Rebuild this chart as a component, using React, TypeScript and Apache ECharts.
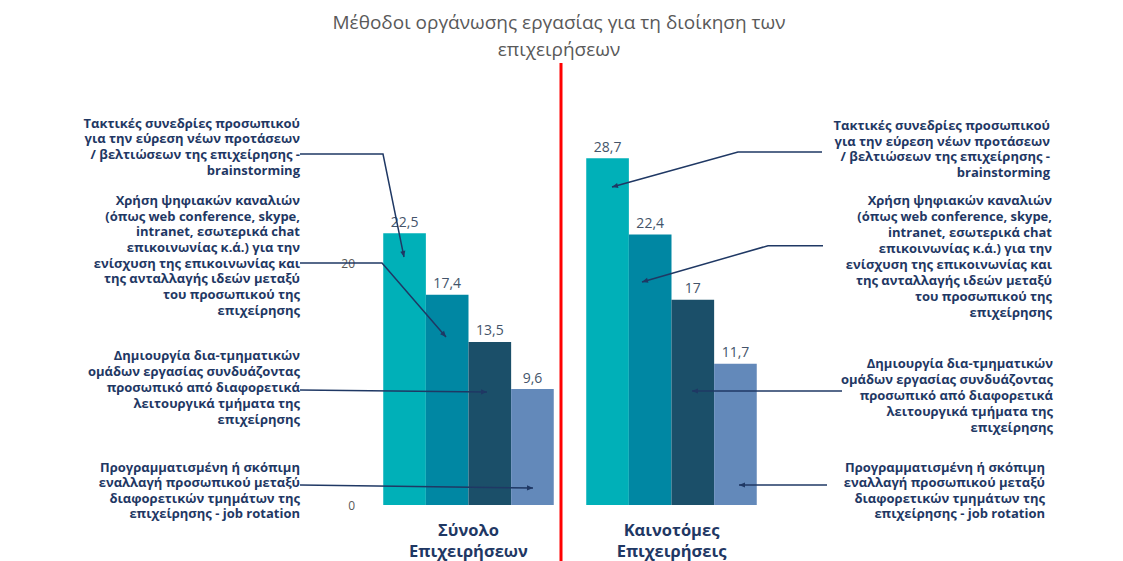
import React, { useEffect, useRef } from "react";
import * as echarts from "echarts";

const titleText = "Μέθοδοι οργάνωσης εργασίας για τη διοίκηση των\nεπιχειρήσεων";
const categories = ["Σύνολο\nΕπιχειρήσεων", "Καινοτόμες\nΕπιχειρήσεις"];
const seriesNames = [
  "Τακτικές συνεδρίες προσωπικού\nγια την εύρεση νέων προτάσεων\n/ βελτιώσεων της επιχείρησης -\nbrainstorming",
  "Χρήση ψηφιακών καναλιών\n(όπως web conference, skype,\nintranet, εσωτερικά chat\nεπικοινωνίας κ.ά.) για την\nενίσχυση της επικοινωνίας και\nτης ανταλλαγής ιδεών μεταξύ\nτου προσωπικού της\nεπιχείρησης",
  "Δημιουργία δια-τμηματικών\nομάδων εργασίας συνδυάζοντας\nπροσωπικό από διαφορετικά\nλειτουργικά τμήματα της\nεπιχείρησης",
  "Προγραμματισμένη ή σκόπιμη\nεναλλαγή προσωπικού μεταξύ\nδιαφορετικών τμημάτων της\nεπιχείρησης - job rotation",
];
const brainstorming = [22.5, 28.7];
const digitalChannels = [17.4, 22.4];
const crossTeams = [13.5, 17];
const jobRotation = [9.6, 11.7];
const seriesValues = [brainstorming, digitalChannels, crossTeams, jobRotation];
const barColors = ["#00B0B8", "#0087A3", "#1B4F69", "#6389BA"];

const NAVY = "#1F3864";

function arrow(points: number[][]) {
  const n = points.length;
  const [x1, y1] = points[n - 2];
  const [x2, y2] = points[n - 1];
  const ang = Math.atan2(y2 - y1, x2 - x1);
  const L = 6;
  const W = 2.6;
  const bx = x2 - L * Math.cos(ang);
  const by = y2 - L * Math.sin(ang);
  const px = -Math.sin(ang) * W;
  const py = Math.cos(ang) * W;
  return [
    {
      type: "polyline",
      z: 100,
      shape: { points },
      style: { stroke: NAVY, lineWidth: 1.5, fill: "none" },
      silent: true,
    },
    {
      type: "polygon",
      z: 100,
      shape: { points: [[x2, y2], [bx + px, by + py], [bx - px, by - py]] },
      style: { fill: NAVY },
      silent: true,
    },
  ];
}

function note(text: string, right: number, firstCenter: number, lh: number) {
  return {
    type: "text",
    z: 100,
    x: right,
    y: firstCenter - lh / 2,
    silent: true,
    style: {
      text,
      align: "right",
      verticalAlign: "top",
      fill: NAVY,
      font: "bold 13px 'Open Sans'",
      lineHeight: lh,
    },
  };
}

export default function App() {
  const ref = useRef<HTMLDivElement>(null);
  useEffect(() => {
    if (!ref.current) return;
    const chart = echarts.init(ref.current, undefined, { renderer: "svg" });
    const graphics: any[] = [
      {
        type: "line",
        z: 100,
        shape: { x1: 561, y1: 63, x2: 561, y2: 561 },
        style: { stroke: "#FF0000", lineWidth: 3 },
        silent: true,
      },
      note(seriesNames[0], 300, 122.7, 15.7),
      note(seriesNames[1], 300, 200, 15.7),
      note(seriesNames[2], 300, 355, 15.9),
      note(seriesNames[3], 300, 466.7, 15.5),
      note(seriesNames[0], 1050, 125, 15.7),
      note(seriesNames[1], 1052, 200, 16),
      note(seriesNames[2], 1053, 363, 16),
      note(seriesNames[3], 1045, 466.7, 15.5),
      ...arrow([[300, 154], [383, 154], [404, 257]]),
      ...arrow([[300, 263], [382, 263], [446, 337]]),
      ...arrow([[300, 390], [487, 392]]),
      ...arrow([[300, 485], [533, 488]]),
      ...arrow([[822, 152], [738, 152], [612, 187]]),
      ...arrow([[823, 245.7], [768, 245.7], [642, 282]]),
      ...arrow([[842, 391], [692, 391]]),
      ...arrow([[827, 485], [739, 485]]),
    ];
    chart.setOption({
      animation: false,
      title: {
        text: titleText,
        left: 554,
        textAlign: "center",
        top: 3,
        textStyle: {
          fontFamily: "Open Sans",
          fontSize: 19,
          fontWeight: "normal",
          color: "#595959",
          lineHeight: 27,
        },
      },
      grid: { left: 367, right: 350, top: 142.6, bottom: 56, containLabel: false },
      xAxis: {
        type: "category",
        data: categories,
        axisLine: { show: false },
        axisTick: { show: false },
        axisLabel: {
          margin: 14,
          fontFamily: "Open Sans",
          fontSize: 16.5,
          fontWeight: "bold",
          color: NAVY,
          lineHeight: 21,
        },
      },
      yAxis: {
        type: "value",
        min: 0,
        max: 30,
        interval: 20,
        axisLine: { show: false },
        axisTick: { show: false },
        splitLine: { show: false },
        axisLabel: {
          showMaxLabel: false,
          margin: 12,
          fontFamily: "Open Sans",
          fontSize: 12,
          color: "#595959",
        },
      },
      series: seriesValues.map((vals, i) => ({
        type: "bar",
        name: seriesNames[i],
        data: vals,
        barGap: "0%",
        barCategoryGap: "16%",
        itemStyle: { color: barColors[i] },
        label: {
          show: true,
          position: "top",
          distance: 5,
          fontFamily: "Open Sans",
          fontSize: 14,
          color: "#44546A",
          formatter: (p: any) => String(p.value).replace(".", ","),
        },
      })),
      graphic: graphics,
    });
    return () => chart.dispose();
  }, []);
  return (
    <div
      ref={ref}
      style={{ position: "fixed", left: 0, top: 0, width: 1123, height: 561, background: "#fff" }}
    />
  );
}
